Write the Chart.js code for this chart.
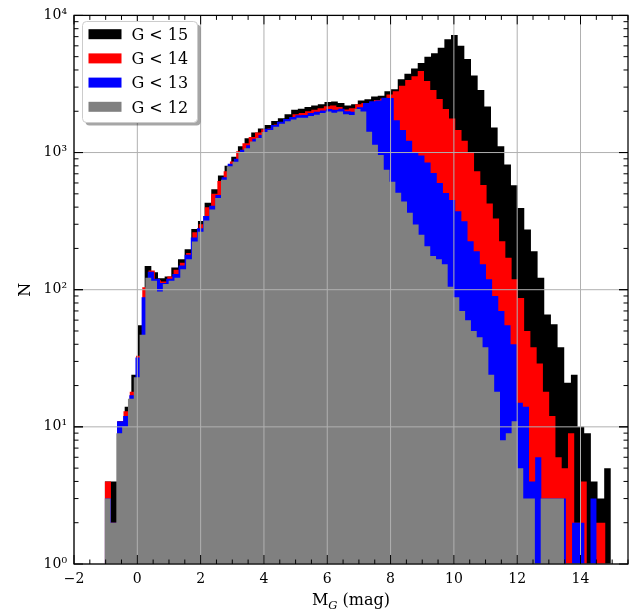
<!DOCTYPE html>
<html lang="en">
<head>
    <meta charset="UTF-8">
    <title>Histogram of M_G</title>
    <script src="https://cdn.jsdelivr.net/npm/chart.js"></script>
    <style>
        body { margin: 0; padding: 0; background: #fff; }
        #grafico { display: block; }
    </style>
</head>
<body>
    <canvas id="grafico" width="643" height="613"></canvas>

    <script>
        // every subset uses 80 bins from the brightest star to its own faintest one
        const nBins = 80;
        const binLo = -1.03;
        const binHiG15 = 15.8;
        const binHiG14 = 14.79;
        const binHiG13 = 14.51;
        const binHiG12 = 13.66;

        const countsG15 = [4, 4, 11, 14, 24, 55, 149, 134, 121, 125,
            145, 167, 197, 277, 317, 430, 540, 680, 800, 930,
            1110, 1270, 1400, 1500, 1590, 1700, 1780, 1900, 2050, 2084,
            2150, 2200, 2250, 2340, 2360, 2300, 2200, 2250, 2400, 2450,
            2560, 2600, 2800, 2900, 3420, 3750, 4100, 4500, 5000, 5300,
            5800, 6700, 7200, 6000, 4800, 3640, 2860, 2170, 1525, 1110,
            817, 578, 395, 275, 191, 122, 66, 56, 38, 21,
            24, 10, 9, 4, 3, 5, 1, 0, 0, 1];
        const countsG14 = [4, 2, 11, 13, 18, 33, 104, 138, 117, 115,
            125, 140, 157, 185, 262, 300, 400, 500, 620, 730,
            860, 1020, 1170, 1300, 1400, 1480, 1500, 1600, 1660, 1760,
            1900, 1940, 2000, 2050, 2100, 2180, 2200, 2150, 2060, 2100,
            2250, 2300, 2300, 2420, 2480, 2650, 2800, 3070, 3380, 3600,
            3940, 3330, 2860, 2460, 2080, 1770, 1460, 1220, 1010, 730,
            580, 425, 330, 226, 171, 119, 87, 50, 38, 29,
            18, 12, 6, 5, 9, 2, 4, 1, 2, 2];
        const countsG13 = [3, 2, 11, 12, 17, 32, 88, 135, 120, 112,
            120, 130, 150, 180, 240, 280, 345, 410, 490, 660,
            830, 900, 1050, 1130, 1260, 1340, 1490, 1590, 1680, 1760,
            1820, 1870, 1880, 1940, 1980, 2030, 2080, 2050, 2090, 2000,
            1980, 2140, 2300, 2370, 2400, 2510, 2500, 1720, 1460, 1220,
            1010, 950, 845, 710, 600, 508, 450, 374, 316, 226,
            191, 153, 119, 90, 70, 55, 40, 15, 14, 4,
            6, 3, 3, 3, 3, 1, 2, 2, 1, 3];
        const countsG12 = [3, 2, 9, 10, 16, 23, 47, 122, 116, 97,
            110, 116, 122, 141, 167, 225, 265, 320, 385, 467,
            633, 795, 858, 1000, 1075, 1205, 1277, 1410, 1460, 1540,
            1620, 1690, 1740, 1790, 1790, 1850, 1890, 1940, 1990, 1950,
            1990, 1900, 1880, 2080, 1990, 1420, 1140, 960, 750, 613,
            510, 440, 364, 299, 252, 207, 176, 167, 153, 105,
            88, 70, 60, 50, 45, 38, 24, 18, 8, 9,
            11, 5, 3, 3, 1, 3, 3, 3, 3, 1];

        const etiquetas = ["G < 15", "G < 14", "G < 13", "G < 12"];
        const colores = ["#000000", "#ff0000", "#0000ff", "#808080"];

        const xTicks = [-2, 0, 2, 4, 6, 8, 10, 12, 14];
        const yTicks = [1, 10, 100, 1000, 10000];
        const supers = ["\u2070", "\u00b9", "\u00b2", "\u00b3", "\u2074"];

        const fuente = "'DejaVu Serif', serif";

        // left bin edges + closing point, drawn as a stepped filled line
        function puntosHist(counts, lo, hi) {
            const w = (hi - lo) / nBins;
            let pts = counts.map((c, i) => ({ x: lo + i * w, y: c }));
            pts.push({ x: hi, y: counts[counts.length - 1] });
            return pts;
        }

        function serie(i, counts, hi) {
            return {
                label: etiquetas[i],
                data: puntosHist(counts, binLo, hi),
                stepped: true,
                fill: "start",
                backgroundColor: colores[i],
                borderColor: colores[i],
                borderWidth: 0,
                pointRadius: 0,
                pointHoverRadius: 0
            };
        }

        // first dataset is painted last, so G<12 goes first
        const datasets = [
            serie(3, countsG12, binHiG12),
            serie(2, countsG13, binHiG13),
            serie(1, countsG14, binHiG14),
            serie(0, countsG15, binHiG15)
        ];

        const marco = {
            id: "marco",
            afterDatasetsDraw(chart) {
                const { ctx, chartArea: a, scales: { x, y } } = chart;
                ctx.save();

                // grid on top of the bars
                ctx.strokeStyle = "#b0b0b0";
                ctx.lineWidth = 1;
                ctx.beginPath();
                xTicks.forEach(v => {
                    const px = x.getPixelForValue(v);
                    ctx.moveTo(px, a.top);
                    ctx.lineTo(px, a.bottom);
                });
                yTicks.forEach(v => {
                    const py = y.getPixelForValue(v);
                    ctx.moveTo(a.left, py);
                    ctx.lineTo(a.right, py);
                });
                ctx.stroke();

                // inward ticks on all four sides
                ctx.strokeStyle = "#000";
                ctx.lineWidth = 1;
                ctx.beginPath();
                for (let v = -2; v <= 15.5; v += 0.5) {
                    const px = x.getPixelForValue(v);
                    const len = xTicks.includes(v) ? 9 : 4.5;
                    ctx.moveTo(px, a.bottom);
                    ctx.lineTo(px, a.bottom - len);
                    ctx.moveTo(px, a.top);
                    ctx.lineTo(px, a.top + len);
                }
                for (let e = 0; e < 4; e++) {
                    for (let m = 1; m <= 10; m++) {
                        const py = y.getPixelForValue(m * Math.pow(10, e));
                        const len = m === 1 || m === 10 ? 9 : 4.5;
                        ctx.moveTo(a.left, py);
                        ctx.lineTo(a.left + len, py);
                        ctx.moveTo(a.right, py);
                        ctx.lineTo(a.right - len, py);
                    }
                }
                ctx.stroke();

                ctx.lineWidth = 1.25;
                ctx.strokeRect(a.left, a.top, a.right - a.left, a.bottom - a.top);
                ctx.restore();
            },
            afterDraw(chart) {
                const { ctx, chartArea: a } = chart;
                ctx.save();

                // legend box with shadow
                const lx = 82.5, ly = 21.5, lw = 115, lh = 101;
                ctx.fillStyle = "rgba(0,0,0,0.35)";
                ctx.beginPath();
                ctx.roundRect(lx + 3, ly + 3, lw, lh, 4);
                ctx.fill();
                ctx.fillStyle = "#fff";
                ctx.strokeStyle = "#cccccc";
                ctx.lineWidth = 1;
                ctx.beginPath();
                ctx.roundRect(lx, ly, lw, lh, 4);
                ctx.fill();
                ctx.stroke();

                ctx.font = "16px " + fuente;
                ctx.textBaseline = "alphabetic";
                ctx.textAlign = "left";
                etiquetas.forEach((t, i) => {
                    const cy = 34.2 + i * 24.2;
                    ctx.fillStyle = colores[i];
                    ctx.fillRect(88.5, cy - 5, 33, 10);
                    ctx.fillStyle = "#000";
                    ctx.fillText(t, 131.5, cy + 5.8);
                });

                // x title: M_G (mag) with italic subscript
                const fMain = "16px " + fuente;
                const fSub = "italic 11.5px " + fuente;
                ctx.font = fMain;
                const wM = ctx.measureText("M").width;
                const wRest = ctx.measureText(" (mag)").width;
                ctx.font = fSub;
                const wG = ctx.measureText("G").width;
                let px = (a.left + a.right) / 2 - (wM + wG + wRest) / 2;
                const base = 605;
                ctx.fillStyle = "#000";
                ctx.font = fMain;
                ctx.fillText("M", px, base);
                px += wM;
                ctx.font = fSub;
                ctx.fillText("G", px, base + 3.5);
                px += wG;
                ctx.font = fMain;
                ctx.fillText(" (mag)", px, base);
                ctx.restore();
            }
        };

        new Chart(document.getElementById("grafico").getContext("2d"), {
            type: "line",
            data: { datasets: datasets },
            options: {
                responsive: false,
                devicePixelRatio: 1,
                animation: false,
                events: [],
                layout: { padding: { left: 0, right: 15, top: 13, bottom: 0 } },
                plugins: { legend: { display: false }, tooltip: { enabled: false } },
                scales: {
                    x: {
                        type: "linear",
                        min: -2,
                        max: 15.5,
                        offset: false,
                        afterBuildTicks: s => { s.ticks = xTicks.map(v => ({ value: v })); },
                        afterFit: s => { s.height = 49; },
                        grid: { display: false, drawTicks: false },
                        border: { display: false },
                        ticks: {
                            autoSkip: false,
                            maxRotation: 0,
                            padding: 7,
                            color: "#000",
                            font: { family: fuente, size: 14 },
                            callback: v => (v < 0 ? "\u2212" + Math.abs(v) : String(v))
                        }
                    },
                    y: {
                        type: "logarithmic",
                        min: 1,
                        max: 10000,
                        afterBuildTicks: s => { s.ticks = yTicks.map(v => ({ value: v })); },
                        afterFit: s => { s.width = 74; },
                        grid: { display: false, drawTicks: false },
                        border: { display: false },
                        title: {
                            display: true,
                            text: "N",
                            color: "#000",
                            font: { family: fuente, size: 16 },
                            padding: { top: 16, bottom: 0 }
                        },
                        ticks: {
                            autoSkip: false,
                            padding: 7,
                            color: "#000",
                            font: { family: fuente, size: 14 },
                            callback: v => "10" + supers[Math.round(Math.log10(v))]
                        }
                    }
                }
            },
            plugins: [marco]
        });
    </script>
</body>
</html>
